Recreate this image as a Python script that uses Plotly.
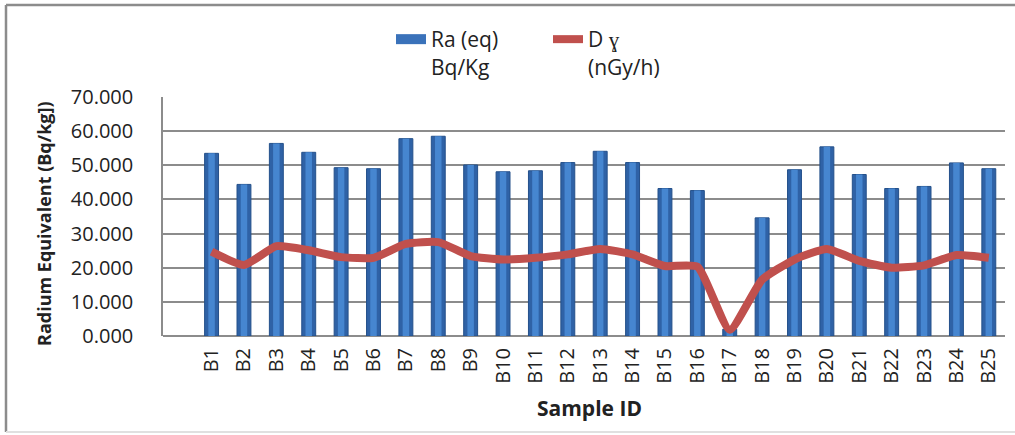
import plotly.graph_objects as go

samples = ["B%d" % i for i in range(1, 26)]
ra_eq = [53.5, 44.4, 56.4, 53.8, 49.3, 49.0, 57.8, 58.5, 50.1, 48.1,
         48.4, 50.8, 54.1, 50.8, 43.2, 42.6, 2.0, 34.6, 48.7, 55.4,
         47.3, 43.2, 43.8, 50.7, 49.0]
d_gamma = [24.7, 20.8, 26.3, 25.1, 23.1, 22.9, 27.0, 27.5, 23.4, 22.4,
           22.9, 23.9, 25.5, 23.9, 20.5, 20.3, 1.8, 16.5, 22.4, 25.5,
           22.0, 20.0, 20.7, 23.7, 22.9]
y_ticks = [0, 10, 20, 30, 40, 50, 60, 70]

FONT = "Open Sans"
BAR_DARK = "#2F62A6"
BAR_LIGHT = "#4686D0"
LINE_RED = "#C0504D"

fig = go.Figure()
fig.add_trace(go.Bar(
    x=samples, y=ra_eq, name="Ra (eq)<br>Bq/Kg", showlegend=False,
    width=0.43, marker=dict(color=BAR_DARK, line=dict(color="#24508A", width=1)),
))
fig.add_trace(go.Bar(
    x=samples, y=ra_eq, showlegend=False, hoverinfo="skip",
    width=0.2, marker=dict(color=BAR_LIGHT, line=dict(width=0)),
))
# legend-only entry so the bar series shows a wide swatch like the original
fig.add_trace(go.Scatter(
    x=[None], y=[None], name="Ra (eq)<br>Bq/Kg", mode="lines",
    line=dict(color="#3A72BA", width=10),
))
fig.add_trace(go.Scatter(
    x=samples, y=d_gamma, name="D ɣ<br>(nGy/h)", mode="lines",
    line=dict(color=LINE_RED, width=8, shape="spline", smoothing=0.5),
))

W, H = 1015, 435
L, R, T, B = 163, 10, 97, 99
pw, ph = W - L - R, H - T - B

def px(x):
    return (x - L) / pw

def py(y):
    return (H - B - y) / ph

fig.update_layout(
    width=W, height=H,
    margin=dict(l=L, r=R, t=T, b=B),
    paper_bgcolor="white", plot_bgcolor="white",
    barmode="overlay",
    font=dict(family=FONT, size=20, color="#222222"),
    showlegend=True,
    legend=dict(orientation="h", x=px(391), y=py(19), xanchor="left", yanchor="top",
                valign="top", font=dict(size=21, family=FONT, color="#222222"),
                entrywidth=112, bgcolor="rgba(0,0,0,0)", traceorder="normal"),
    xaxis=dict(type="category", range=[-1.5, 24.5], tickangle=-90,
               showgrid=False, showline=False, ticks="", ticklabelstandoff=7,
               tickfont=dict(size=20, family=FONT, color="#222222")),
    yaxis=dict(range=[0, 70], tickvals=y_ticks, tickformat=".3f",
               showgrid=True, gridcolor="#8C8C8C", gridwidth=1.5,
               showline=True, linecolor="#8C8C8C", linewidth=1.5,
               zeroline=True, zerolinecolor="#8C8C8C", zerolinewidth=1.5,
               ticks="", ticklabelstandoff=24,
               tickfont=dict(size=20, family=FONT, color="#222222")),
    annotations=[
        dict(text="<b>Radium Equivalent (Bq/kg])</b>", xref="paper", yref="paper",
             x=px(44), y=py(224), xanchor="center", yanchor="middle",
             textangle=-90, showarrow=False,
             font=dict(size=18, family=FONT, color="#222222")),
        dict(text="<b>Sample ID</b>", xref="paper", yref="paper",
             x=px(589), y=py(408), xanchor="center", yanchor="middle", showarrow=False,
             font=dict(size=21, family=FONT, color="#222222")),
    ],
    shapes=[
        dict(type="line", xref="paper", yref="paper", x0=px(6), x1=px(6), y0=py(432), y1=py(5),
             line=dict(color="#8C8C8C", width=2.5)),
        dict(type="line", xref="paper", yref="paper", x0=px(6), x1=px(1020), y0=py(5), y1=py(5),
             line=dict(color="#8C8C8C", width=2.5)),
        dict(type="line", xref="paper", yref="paper", x0=px(6), x1=px(1020), y0=py(432), y1=py(432),
             line=dict(color="#E0E0E0", width=2)),
    ],
)

fig.write_html("out.html",
               config={"displayModeBar": False},
               post_script="document.body.style.margin='0';document.body.style.overflow='hidden';")
